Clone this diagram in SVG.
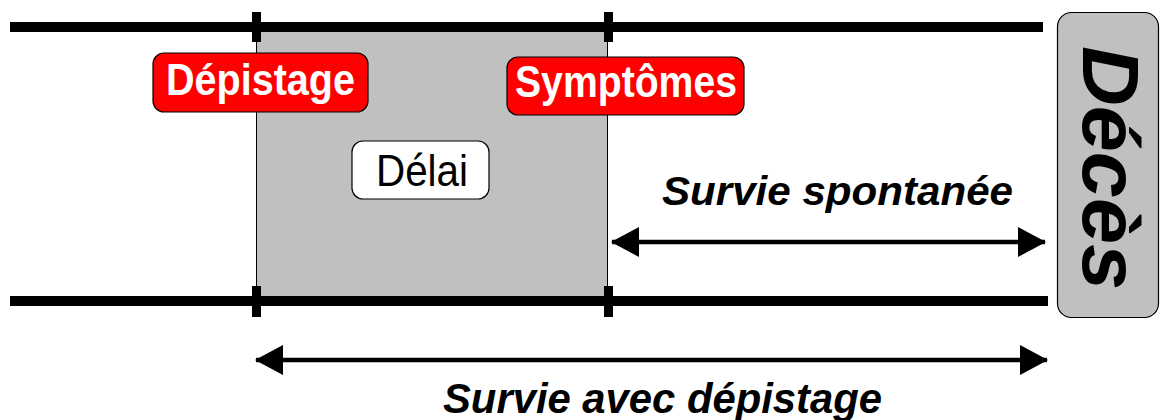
<svg xmlns="http://www.w3.org/2000/svg" width="1161" height="420" viewBox="0 0 1161 420">
<style>
.t{font-family:"Liberation Sans",Arial,sans-serif}
.bar{stroke:#000;stroke-width:10;fill:none}
.tick{fill:#000}
.lab{fill:#ff0000;stroke:#000;stroke-width:1.2}
.wl{fill:#fff;stroke:#000;stroke-width:1.2}
.arr{stroke:#000;stroke-width:4.5;fill:none;marker-start:url(#ah);marker-end:url(#ah)}
</style>
<defs>
<marker id="ah" markerUnits="userSpaceOnUse" markerWidth="28" markerHeight="30" viewBox="0 0 28 30" refX="27" refY="15" orient="auto-start-reverse">
<path d="M0,0 L28,15 L0,30 z" fill="#000"/>
</marker>
</defs>
<rect width="1161" height="420" fill="#fff"/>
<g id="delay-zone">
<rect x="256" y="27" width="352" height="274" fill="#c0c0c0"/>
<line x1="256.5" y1="27" x2="256.5" y2="301" stroke="#000" stroke-width="1"/>
<line x1="607.5" y1="27" x2="607.5" y2="301" stroke="#000" stroke-width="1"/>
</g>
<g id="timelines">
<line class="bar" x1="10" y1="27" x2="1043" y2="27"/>
<line class="bar" x1="10" y1="301" x2="1048" y2="301"/>
<rect class="tick" x="252" y="12" width="9" height="30"/>
<rect class="tick" x="604" y="12" width="9" height="30"/>
<rect class="tick" x="252" y="286" width="9" height="31"/>
<rect class="tick" x="604" y="286" width="9" height="31"/>
</g>
<g id="connectors">
<line class="arr" x1="612" y1="242" x2="1045" y2="242"/>
<line class="arr" x1="256" y1="360" x2="1047" y2="360"/>
</g>
<g id="depistage">
<rect class="lab" x="153" y="53" width="215" height="59" rx="11"/>
<text class="t" x="166" y="95" font-size="44" font-weight="bold" fill="#fff" textLength="189" lengthAdjust="spacingAndGlyphs">Dépistage</text>
</g>
<g id="symptomes">
<rect class="lab" x="507" y="57" width="237" height="58" rx="11"/>
<text class="t" x="515" y="97" font-size="44" font-weight="bold" fill="#fff" textLength="222" lengthAdjust="spacingAndGlyphs">Symptômes</text>
</g>
<g id="delai">
<rect class="wl" x="352" y="141" width="137" height="58" rx="11"/>
<text class="t" x="376" y="186" font-size="45" fill="#000" textLength="92" lengthAdjust="spacingAndGlyphs">Délai</text>
</g>
<g id="deces">
<rect x="1057.5" y="12.5" width="101" height="305" rx="14" fill="#c0c0c0" stroke="#000" stroke-width="1.2"/>
<text class="t" transform="translate(1083,46) rotate(90)" x="0" y="0" font-size="80" font-weight="bold" font-style="italic" fill="#000" textLength="244" lengthAdjust="spacingAndGlyphs">Décès</text>
</g>
<g id="labels">
<text class="t" x="662" y="205" font-size="40" font-weight="bold" font-style="italic" fill="#000" textLength="351" lengthAdjust="spacingAndGlyphs">Survie spontanée</text>
<text class="t" x="443" y="413" font-size="42" font-weight="bold" font-style="italic" fill="#000" textLength="439" lengthAdjust="spacingAndGlyphs">Survie avec dépistage</text>
</g>
</svg>
